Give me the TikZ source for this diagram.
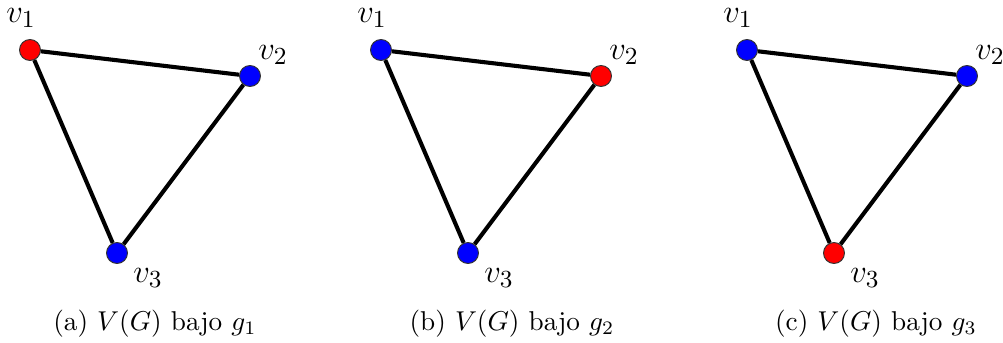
\documentclass[tikz,border=0pt]{standalone}
\begin{document}
\begin{tikzpicture}[x=0.367pt,y=-0.367pt,
  vert/.style={circle,draw=black!80,line width=0.35pt,minimum size=7.7pt,inner sep=0pt},
  edge/.style={line width=1.5pt,black},
  vlab/.style={font=\fontsize{13}{15}\selectfont},
  capt/.style={font=\fontsize{10}{12}\selectfont,anchor=base}]
\useasboundingbox[fill=white] (0,0) rectangle (1003,343);
\foreach \p/\dx/\ca/\cb/\cc/\cx/\g in {a/0/red/blue/blue/155/1, b/351/blue/red/blue/512/2, c/717/blue/blue/red/876/3}{
  \node[vert,fill=\ca] (\p1) at ({30+\dx},50) {};
  \node[vert,fill=\cb] (\p2) at ({250+\dx},76) {};
  \node[vert,fill=\cc] (\p3) at ({117+\dx},253) {};
  \draw[edge] (\p1) -- (\p2);
  \draw[edge] (\p2) -- (\p3);
  \draw[edge] (\p3) -- (\p1);
  \node[vlab] (\p l1) at ({21+\dx},18) {$v_1$};
  \node[vlab] (\p l2) at ({273+\dx},55) {$v_2$};
  \node[vlab] (\p l3) at ({148+\dx},278) {$v_3$};
  \node[capt] (\p cap) at (\cx,330) {(\p) $V(G)$ bajo $g_{\g}$};
}
\end{tikzpicture}
\end{document}
